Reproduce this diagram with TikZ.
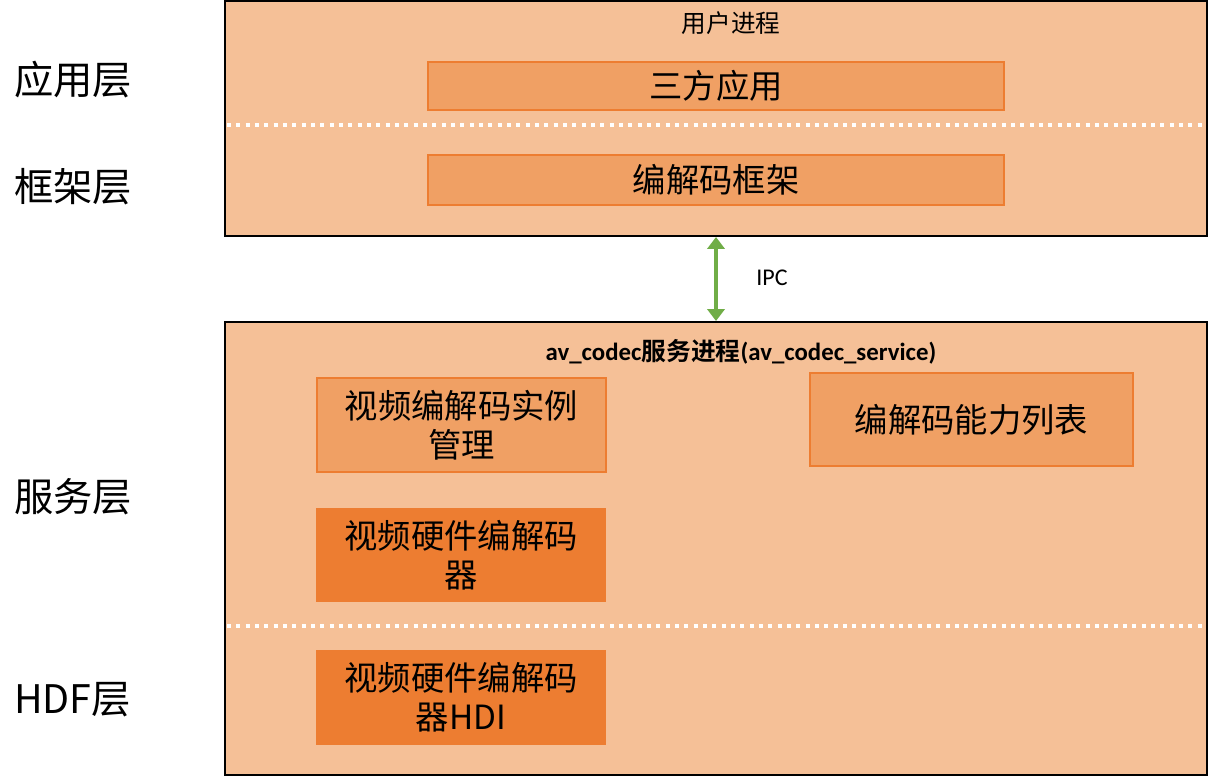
\documentclass[tikz,border=0pt]{standalone}
\usepackage{fontspec}
\setmainfont{Carlito}
\newfontfamily\cjk{Noto Sans CJK SC}[BoldFont={* Bold}]
\usetikzlibrary{arrows.meta}
\definecolor{bgor}{HTML}{F5C097}
\definecolor{midor}{HTML}{F0A064}
\definecolor{darkor}{HTML}{ED7D31}
\definecolor{arrgreen}{HTML}{70AD47}
\tikzset{
  layerbox/.style={draw=black, line width=1.5pt, fill=bgor, inner sep=0pt},
  midbox/.style={draw=darkor, line width=1.5pt, fill=midor, inner sep=0pt, align=center,
     font=\cjk\fontsize{25}{29}\selectfont},
  darkbox/.style={fill=darkor, inner sep=0pt, align=center,
     font=\cjk\fontsize{25}{29}\selectfont},
  layerlabel/.style={anchor=west, inner sep=0pt, font=\cjk\fontsize{29.5}{33}\selectfont},
  sepline/.style={white, line width=3pt, dash pattern=on 3pt off 4pt},
  ipcarrow/.style={arrgreen, line width=3.3pt, {Triangle[width=13pt,length=9pt]}-{Triangle[width=13pt,length=9pt]}}
}
\begin{document}
\begin{tikzpicture}[x=0.75pt,y=-0.75pt]
\useasboundingbox (0,0) rectangle (1209,777);
% layer boxes
\node[layerbox, minimum width=736.5pt, minimum height=176.25pt] (top) at (716,118.5) {};
\node[layerbox, minimum width=736.5pt, minimum height=339.75pt] (svc) at (716,548.5) {};
% separators
\coordinate (s1a) at (227,125);
\coordinate (s1b) at (1205,125);
\coordinate (s2a) at (227,626);
\coordinate (s2b) at (1205,626);
\draw[sepline] (s1a) -- (s1b);
\draw[sepline] (s2a) -- (s2b);
% titles
\node[inner sep=0pt, font=\cjk\fontsize{18.5}{22}\selectfont] (ttop) at (731,23) {用户进程};
\node[inner sep=0pt, font=\bfseries\fontsize{18.6}{22}\selectfont] (tsvc) at (741,352) {av\_codec{\cjk\bfseries 服务进程}(av\_codec\_service)};
% inner boxes
\node[midbox, minimum width=432pt, minimum height=36pt] (app) at (716,86) {三方应用};
\node[midbox, minimum width=432pt, minimum height=37.5pt] (fw) at (716,180) {编解码框架};
\node[midbox, minimum width=216.75pt, minimum height=70.5pt] (inst) at (461.5,425) {视频编解码实例\\管理};
\node[midbox, minimum width=242.25pt, minimum height=69.75pt] (cap) at (971.5,419.5) {编解码能力列表};
\node[darkbox, minimum width=217.5pt, minimum height=70.5pt] (hw) at (461,555) {视频硬件编解码\\器};
\node[darkbox, minimum width=217.5pt, minimum height=71.25pt] (hdi) at (461,697.5) {视频硬件编解码\\器HDI};
% IPC arrow
\draw[ipcarrow] (top.south) -- (svc.north);
\node[inner sep=0pt, font=\fontsize{18}{22}\selectfont] (ipc) at (772,278) {IPC};
% layer labels
\node[layerlabel] (l1) at (14,80) {应用层};
\node[layerlabel] (l2) at (14,187) {框架层};
\node[layerlabel] (l3) at (14,497) {服务层};
\node[layerlabel] (l4) at (14,700) {HDF层};
\end{tikzpicture}
\end{document}
